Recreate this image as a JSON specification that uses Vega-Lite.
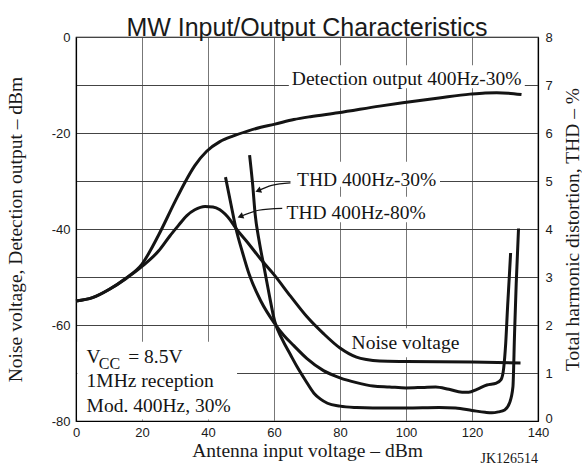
{
  "$schema": "https://vega.github.io/schema/vega-lite/v6.json",
  "width": 462,
  "height": 384,
  "autosize": {"type": "none"},
  "padding": {"left": 76, "top": 37, "right": 44, "bottom": 47},
  "background": "white",
  "title": {"text": "MW Input/Output Characteristics", "font": "Liberation Sans", "fontSize": 25, "fontWeight": "normal", "color": "#1a1a1a", "anchor": "middle", "frame": "group", "baseline": "alphabetic", "offset": -2, "dy": 28},
  "config": {
    "view": {"stroke": "#000", "strokeWidth": 1.2},
    "axis": {"labelFont": "Liberation Sans", "labelFontSize": 13, "labelColor": "#1a1a1a", "titleFont": "Liberation Serif", "titleFontSize": 19.5, "titleFontWeight": "normal", "titleColor": "#1a1a1a", "domainColor": "#000", "domainWidth": 1.2, "ticks": false, "tickSize": 0, "gridWidth": 1, "gridOpacity": 1, "labelFlush": false, "labelOverlap": false}
  },
  "datasets": {
    "dbm": [
      {"series": "Detection", "x": 0, "y": -55}, {"series": "Detection", "x": 5, "y": -54.3}, {"series": "Detection", "x": 10, "y": -52.6}, {"series": "Detection", "x": 15, "y": -50.3}, {"series": "Detection", "x": 20, "y": -47.3}, {"series": "Detection", "x": 25, "y": -41.3}, {"series": "Detection", "x": 30, "y": -34.3}, {"series": "Detection", "x": 33, "y": -30.3}, {"series": "Detection", "x": 36, "y": -26.8}, {"series": "Detection", "x": 39.6, "y": -23.8}, {"series": "Detection", "x": 43.6, "y": -21.8}, {"series": "Detection", "x": 47.7, "y": -20.6}, {"series": "Detection", "x": 52, "y": -19.6}, {"series": "Detection", "x": 56, "y": -18.8}, {"series": "Detection", "x": 60, "y": -18.2}, {"series": "Detection", "x": 66, "y": -17.2}, {"series": "Detection", "x": 71, "y": -16.6}, {"series": "Detection", "x": 79.4, "y": -15.8}, {"series": "Detection", "x": 92, "y": -14.4}, {"series": "Detection", "x": 99, "y": -13.7}, {"series": "Detection", "x": 110, "y": -12.7}, {"series": "Detection", "x": 119.4, "y": -11.9}, {"series": "Detection", "x": 124, "y": -11.65}, {"series": "Detection", "x": 127.5, "y": -11.6}, {"series": "Detection", "x": 131, "y": -11.7}, {"series": "Detection", "x": 135, "y": -12.0},
      {"series": "Noise", "x": 0, "y": -55}, {"series": "Noise", "x": 5, "y": -54.3}, {"series": "Noise", "x": 10, "y": -52.6}, {"series": "Noise", "x": 15, "y": -50.4}, {"series": "Noise", "x": 20, "y": -47.8}, {"series": "Noise", "x": 25, "y": -44.6}, {"series": "Noise", "x": 28.5, "y": -41.4}, {"series": "Noise", "x": 31, "y": -39.3}, {"series": "Noise", "x": 33.6, "y": -37.2}, {"series": "Noise", "x": 36, "y": -36}, {"series": "Noise", "x": 39.1, "y": -35.3}, {"series": "Noise", "x": 41.5, "y": -35.4}, {"series": "Noise", "x": 43.6, "y": -36}, {"series": "Noise", "x": 46.7, "y": -38.1}, {"series": "Noise", "x": 48.3, "y": -39.7}, {"series": "Noise", "x": 52, "y": -42.8}, {"series": "Noise", "x": 56, "y": -46.3}, {"series": "Noise", "x": 60, "y": -49.5}, {"series": "Noise", "x": 65, "y": -54}, {"series": "Noise", "x": 70, "y": -58.3}, {"series": "Noise", "x": 75, "y": -61.8}, {"series": "Noise", "x": 80, "y": -64.8}, {"series": "Noise", "x": 85, "y": -66.7}, {"series": "Noise", "x": 88, "y": -67.2}, {"series": "Noise", "x": 92, "y": -67.5}, {"series": "Noise", "x": 100, "y": -67.6}, {"series": "Noise", "x": 120, "y": -67.7}, {"series": "Noise", "x": 134.7, "y": -67.9}
    ],
    "thd": [
      {"series": "THD80", "x": 45.3, "pct": 5.08}, {"series": "THD80", "x": 47, "pct": 4.5}, {"series": "THD80", "x": 48.5, "pct": 4.0}, {"series": "THD80", "x": 50.5, "pct": 3.5}, {"series": "THD80", "x": 52.5, "pct": 3.05}, {"series": "THD80", "x": 56, "pct": 2.5}, {"series": "THD80", "x": 60, "pct": 2.05}, {"series": "THD80", "x": 63, "pct": 1.78}, {"series": "THD80", "x": 66, "pct": 1.57}, {"series": "THD80", "x": 70, "pct": 1.3}, {"series": "THD80", "x": 75, "pct": 1.05}, {"series": "THD80", "x": 80, "pct": 0.9}, {"series": "THD80", "x": 85, "pct": 0.8}, {"series": "THD80", "x": 90, "pct": 0.73}, {"series": "THD80", "x": 95, "pct": 0.71}, {"series": "THD80", "x": 100, "pct": 0.69}, {"series": "THD80", "x": 105, "pct": 0.7}, {"series": "THD80", "x": 109, "pct": 0.71}, {"series": "THD80", "x": 113, "pct": 0.66}, {"series": "THD80", "x": 117, "pct": 0.6}, {"series": "THD80", "x": 119, "pct": 0.6}, {"series": "THD80", "x": 121.5, "pct": 0.66}, {"series": "THD80", "x": 124.5, "pct": 0.75}, {"series": "THD80", "x": 127.4, "pct": 0.79}, {"series": "THD80", "x": 128.8, "pct": 0.86}, {"series": "THD80", "x": 129.6, "pct": 1.1}, {"series": "THD80", "x": 130.2, "pct": 1.6}, {"series": "THD80", "x": 130.8, "pct": 2.4}, {"series": "THD80", "x": 131.3, "pct": 3.0}, {"series": "THD80", "x": 131.7, "pct": 3.5},
      {"series": "THD30", "x": 52.6, "pct": 5.54}, {"series": "THD30", "x": 53.5, "pct": 4.95}, {"series": "THD30", "x": 54.3, "pct": 4.3}, {"series": "THD30", "x": 55.5, "pct": 3.75}, {"series": "THD30", "x": 57, "pct": 3.2}, {"series": "THD30", "x": 58.5, "pct": 2.65}, {"series": "THD30", "x": 60.2, "pct": 2.08}, {"series": "THD30", "x": 62.5, "pct": 1.7}, {"series": "THD30", "x": 65, "pct": 1.38}, {"series": "THD30", "x": 67, "pct": 1.13}, {"series": "THD30", "x": 69.5, "pct": 0.85}, {"series": "THD30", "x": 72.1, "pct": 0.58}, {"series": "THD30", "x": 74, "pct": 0.46}, {"series": "THD30", "x": 76.2, "pct": 0.37}, {"series": "THD30", "x": 80, "pct": 0.31}, {"series": "THD30", "x": 85, "pct": 0.28}, {"series": "THD30", "x": 90, "pct": 0.27}, {"series": "THD30", "x": 100, "pct": 0.27}, {"series": "THD30", "x": 110, "pct": 0.28}, {"series": "THD30", "x": 115, "pct": 0.27}, {"series": "THD30", "x": 120, "pct": 0.22}, {"series": "THD30", "x": 124, "pct": 0.18}, {"series": "THD30", "x": 126, "pct": 0.17}, {"series": "THD30", "x": 128, "pct": 0.19}, {"series": "THD30", "x": 129.9, "pct": 0.23}, {"series": "THD30", "x": 131.4, "pct": 0.38}, {"series": "THD30", "x": 132.4, "pct": 0.71}, {"series": "THD30", "x": 132.9, "pct": 1.83}, {"series": "THD30", "x": 133.4, "pct": 2.87}, {"series": "THD30", "x": 134.1, "pct": 4.01}
    ],
    "masks": [
      {"x": 64.5, "x2": 136, "y": -5.9, "y2": -10.7},
      {"x": 65, "x2": 110.3, "y": -26, "y2": -31.2},
      {"x": 62.7, "x2": 108, "y": -33.3, "y2": -38.6},
      {"x": 81.5, "x2": 118.5, "y": -60.7, "y2": -66.7},
      {"x": 0.4, "x2": 48.8, "y": -63.5, "y2": -79.7}
    ],
    "leaders": [
      {"id": "a", "x": 65.0, "y": -30.4}, {"id": "a", "x": 59.3, "y": -30.9}, {"id": "a", "x": 55.2, "y": -32.0},
      {"id": "b", "x": 62.5, "y": -35.7}, {"id": "b", "x": 55.3, "y": -36.1}, {"id": "b", "x": 49.8, "y": -37.4}
    ],
    "arrows": [
      {"x": 55.2, "y": -32.0}, {"x": 49.8, "y": -37.4}
    ],
    "notes": [
      {"x": 65.4, "y": -9.9, "text": "Detection output 400Hz-30%", "role": "label"},
      {"x": 67.0, "y": -31.0, "text": "THD 400Hz-30%", "role": "label"},
      {"x": 63.8, "y": -37.9, "text": "THD 400Hz-80%", "role": "label"},
      {"x": 83.5, "y": -65.1, "text": "Noise voltage", "role": "label"},
      {"x": 3.2, "y": -68.0, "text": "V", "role": "label"},
      {"x": 15.8, "y": -68.0, "text": "= 8.5V", "role": "label"},
      {"x": 3.2, "y": -73.0, "text": "1MHz reception", "role": "label"},
      {"x": 3.2, "y": -78.1, "text": "Mod. 400Hz, 30%", "role": "label"},
      {"x": 6.9, "y": -69.1, "text": "CC", "role": "sub"},
      {"x": 140, "y": -88.7, "text": "JK126514", "role": "code"}
    ]
  },
  "encoding": {
    "x": {"field": "x", "type": "quantitative", "scale": {"domain": [0, 140], "nice": false, "zero": false},
          "axis": {"values": [0, 20, 40, 60, 80, 100, 120, 140], "grid": true, "gridColor": "#777", "labelPadding": 5, "title": "Antenna input voltage – dBm", "titleBaseline": "alphabetic", "titleY": 35}}
  },
  "layer": [
    {
      "encoding": {
        "y": {"field": "y", "type": "quantitative", "scale": {"domain": [-80, 0], "nice": false, "zero": false},
              "axis": {"values": [-80, -70, -60, -50, -40, -30, -20, -10, 0], "grid": true, "gridColor": "#444", "labelPadding": 6, "labelExpr": "datum.value % 20 == 0 ? (datum.value < 0 ? '-' + (-datum.value) : '0') : ''", "title": "Noise voltage, Detection output – dBm", "titleAngle": 270, "titleAlign": "center", "titleBaseline": "alphabetic", "titleX": -55, "titleY": 192}}
      },
      "layer": [
        {"data": {"name": "masks"}, "mark": {"type": "rect", "fill": "white", "stroke": null}, "encoding": {"x2": {"field": "x2"}, "y2": {"field": "y2"}}},
        {"data": {"name": "dbm"}, "mark": {"type": "line", "interpolate": "monotone", "strokeWidth": 3, "color": "#141414"}, "encoding": {"detail": {"field": "series"}}},
        {"data": {"name": "leaders"}, "mark": {"type": "line", "interpolate": "monotone", "strokeWidth": 1.2, "color": "#141414"}, "encoding": {"detail": {"field": "id"}}},
        {"data": {"name": "arrows"}, "mark": {"type": "point", "shape": "triangle-left", "filled": true, "size": 45, "angle": 339, "color": "#141414", "opacity": 1}, "encoding": {}},
        {"data": {"name": "notes"}, "transform": [{"filter": "datum.role == 'label'"}], "mark": {"type": "text", "font": "Liberation Serif", "fontSize": 19.5, "align": "left", "baseline": "alphabetic", "color": "#141414"}, "encoding": {"text": {"field": "text"}}},
        {"data": {"name": "notes"}, "transform": [{"filter": "datum.role == 'sub'"}], "mark": {"type": "text", "font": "Liberation Serif", "fontSize": 16, "align": "left", "baseline": "alphabetic", "color": "#141414"}, "encoding": {"text": {"field": "text"}}},
        {"data": {"name": "notes"}, "transform": [{"filter": "datum.role == 'code'"}], "mark": {"type": "text", "font": "Liberation Serif", "fontSize": 14, "align": "right", "baseline": "alphabetic", "color": "#141414"}, "encoding": {"text": {"field": "text"}}}
      ]
    },
    {
      "data": {"name": "thd"},
      "mark": {"type": "line", "interpolate": "monotone", "strokeWidth": 3, "color": "#141414"},
      "encoding": {
        "y": {"field": "pct", "type": "quantitative", "scale": {"domain": [0, 8], "nice": false, "zero": false},
              "axis": {"orient": "right", "values": [0, 1, 2, 3, 4, 5, 6, 7, 8], "grid": false, "labelPadding": 7, "labelOffset": {"condition": {"test": "datum.value == 0", "value": -3}, "value": 0}, "title": "Total harmonic distortion, THD – %", "titleAngle": 270, "titleAlign": "center", "titleBaseline": "alphabetic", "titleX": 40, "titleY": 192}},
        "detail": {"field": "series"}
      }
    }
  ],
  "resolve": {"scale": {"y": "independent"}}
}
